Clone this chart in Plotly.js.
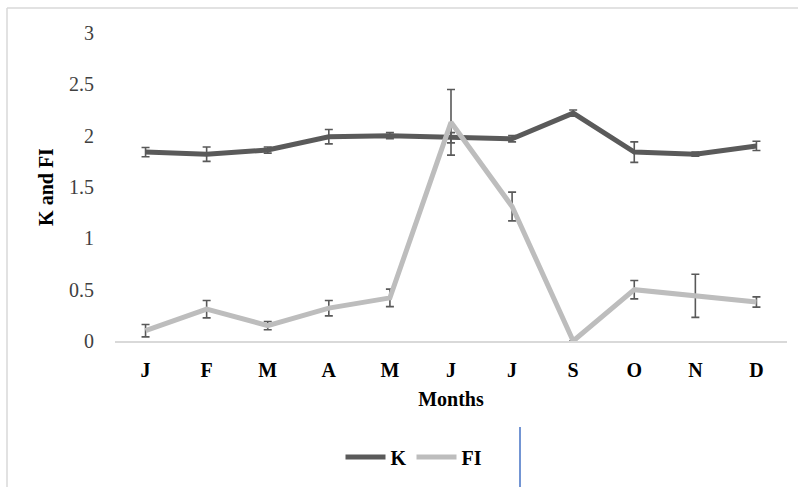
<!DOCTYPE html>
<html>
<head>
<meta charset="utf-8">
<script src="https://cdn.plot.ly/plotly-3.0.1.min.js"></script>
<style>html,body{margin:0;padding:0;background:#fff;}#chart{width:799px;height:487px;}</style>
</head>
<body>
<div id="chart"></div>
<script>
const months = ["J","F","M","A","M","J","J","S","O","N","D"];
const monthIdx = [0,1,2,3,4,5,6,7,8,9,10];
const kValues = [1.84,1.82,1.86,1.99,2.0,1.98,1.97,2.22,1.84,1.82,1.90];
const kErrors = [0.045,0.07,0.03,0.07,0.03,0.05,0.03,0.03,0.1,0.02,0.045];
const fiValues = [0.10,0.31,0.15,0.32,0.42,2.13,1.31,0.0,0.50,0.44,0.38];
const fiErrors = [0.06,0.085,0.04,0.075,0.085,0.32,0.14,0,0.09,0.21,0.05];

const errStyle = (arr) => ({type:'data', array:arr, visible:true, color:'#595959', thickness:1.6, width:4});

const traces = [
  {x: monthIdx, y: kValues, name: 'K', type: 'scatter', mode: 'lines',
   line: {color: '#5a5a5a', width: 5}, error_y: errStyle(kErrors)},
  {x: monthIdx, y: fiValues, name: 'FI', type: 'scatter', mode: 'lines',
   line: {color: '#bdbdbd', width: 5}, error_y: errStyle(fiErrors)}
];

const PX = (p) => (p - 115) / 672;
const PY = (p) => (341 - p) / 308;
const FONT = '"Liberation Serif", "Times New Roman", serif';

const layout = {
  width: 799, height: 487,
  margin: {l: 115, r: 12, t: 33, b: 146},
  paper_bgcolor: '#ffffff', plot_bgcolor: '#ffffff',
  font: {family: FONT, color: '#000'},
  xaxis: {
    range: [-0.5, 10.5], tickmode: 'array', tickvals: monthIdx, ticktext: months,
    showgrid: false, zeroline: false, showline: true, linecolor: '#d9d9d9', linewidth: 1.5,
    ticks: '', ticklabelstandoff: 10, automargin: false,
    tickfont: {family: FONT, size: 20, color: '#000', weight: 'bold'},
    title: {text: '<b>Months</b>', font: {family: FONT, size: 20, color: '#000'}, standoff: 12},
    fixedrange: true
  },
  yaxis: {
    range: [0, 3], tickvals: [0, 0.5, 1, 1.5, 2, 2.5, 3], ticktext: ['0','0.5','1','1.5','2','2.5','3'],
    showgrid: false, zeroline: false, showline: false, ticks: '', ticklabelstandoff: 20, automargin: false,
    tickfont: {family: FONT, size: 20, color: '#404040'},
    title: {text: '<b>K and FI</b>', font: {family: FONT, size: 20, color: '#000'}, standoff: 10},
    fixedrange: true
  },
  showlegend: true,
  legend: {
    orientation: 'h', xref: 'container', yref: 'container',
    x: 414 / 799, y: 1 - 457 / 487, xanchor: 'center', yanchor: 'middle',
    font: {family: FONT, size: 20, color: '#000', weight: 'bold'},
    itemwidth: 40, tracegroupgap: 0, bgcolor: 'rgba(0,0,0,0)'
  },
  shapes: [
    {type: 'line', xref: 'paper', yref: 'paper', x0: PX(7), x1: PX(798), y0: PY(8), y1: PY(8), line: {color: '#d9d9d9', width: 1.5}},
    {type: 'line', xref: 'paper', yref: 'paper', x0: PX(7), x1: PX(7), y0: PY(8), y1: PY(487), line: {color: '#d9d9d9', width: 1.5}},
    {type: 'line', xref: 'paper', yref: 'paper', x0: PX(520), x1: PX(520), y0: PY(427), y1: PY(487), line: {color: '#4472c4', width: 1.5}}
  ]
};

Plotly.newPlot('chart', traces, layout, {displayModeBar: false, staticPlot: true});
</script>
</body>
</html>
